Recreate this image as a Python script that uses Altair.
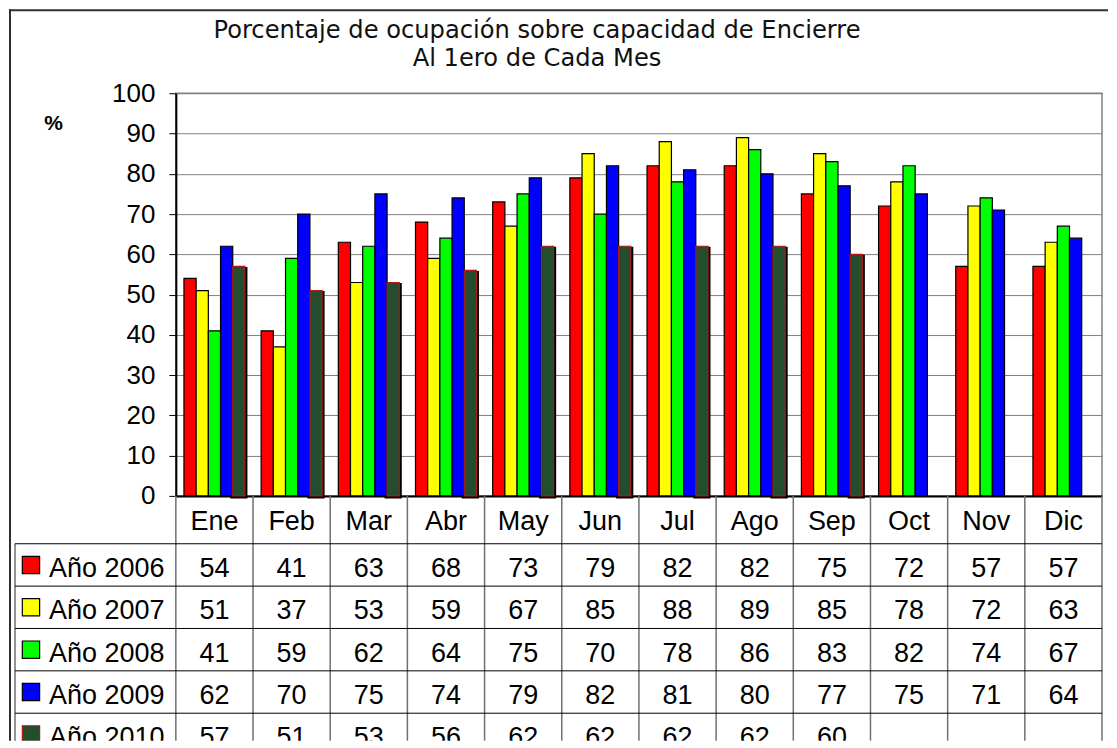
import altair as alt
import pandas as pd

months = ["Ene", "Feb", "Mar", "Abr", "May", "Jun", "Jul", "Ago", "Sep", "Oct", "Nov", "Dic"]
series = ["Año 2006", "Año 2007", "Año 2008", "Año 2009", "Año 2010"]
a2006 = [54, 41, 63, 68, 73, 79, 82, 82, 75, 72, 57, 57]
a2007 = [51, 37, 53, 59, 67, 85, 88, 89, 85, 78, 72, 63]
a2008 = [41, 59, 62, 64, 75, 70, 78, 86, 83, 82, 74, 67]
a2009 = [62, 70, 75, 74, 79, 82, 81, 80, 77, 75, 71, 64]
a2010 = [57, 51, 53, 56, 62, 62, 62, 62, 60, None, None, None]
y_ticks = [0, 10, 20, 30, 40, 50, 60, 70, 80, 90, 100]

fills = ["#FF0000", "#FFFF00", "#00FF00", "#0000FF", "#234D2C"]
strokes = ["#000000", "#000000", "#000000", "#000000", "#B01818"]

all_vals = [a2006, a2007, a2008, a2009, a2010]
rows = []
for i, (s, vals) in enumerate(zip(series, all_vals)):
    for j, (m, v) in enumerate(zip(months, vals)):
        rows.append({"mes": m, "serie": s, "valor": v, "col": j + 0.5,
                     "fila": i + 1.5, "txt": "" if v is None else str(v)})
df = pd.DataFrame(rows)
bars_df = df.dropna(subset=["valor"])

fill_scale = alt.Scale(domain=series, range=fills)
stroke_scale = alt.Scale(domain=series, range=strokes)
FONT = "Liberation Sans"
NOVIEW = alt.ViewBackground(stroke="transparent", strokeWidth=0)

x_enc = alt.X("mes:N", sort=months,
              scale=alt.Scale(paddingInner=0.21, paddingOuter=0.105),
              axis=alt.Axis(labels=False, ticks=False, title=None, grid=False,
                            domainColor="#000000", domainWidth=2))
xo_enc = alt.XOffset("serie:N", sort=series, scale=alt.Scale(paddingInner=0, paddingOuter=0))
y_axis = alt.Axis(values=y_ticks, title="%", titleAngle=0,
                  titleX=-123, titleY=30, titleAlign="center",
                  titleBaseline="middle", titleFont=FONT,
                  titleFontSize=21, titleFontWeight="bold",
                  titleColor="#000000",
                  labelFont=FONT, labelFontSize=26, labelColor="#000000",
                  labelPadding=14, tickSize=7, tickColor="#000000",
                  domainColor="#000000", domainWidth=2,
                  gridColor="#808080", gridWidth=1)

# ---------- top chart: bars ----------
shadow = alt.Chart(bars_df).transform_filter(
    alt.datum.serie == "Año 2010"
).transform_calculate(sombra="datum.valor - 0.75").mark_bar(
    color="#000000", stroke="#000000", strokeWidth=5
).encode(
    x=x_enc, xOffset=xo_enc,
    y=alt.Y("sombra:Q", scale=alt.Scale(domain=[0, 100], nice=False), axis=y_axis),
)

bars = alt.Chart(bars_df).mark_bar(strokeWidth=1.2).encode(
    x=x_enc, xOffset=xo_enc,
    y=alt.Y("valor:Q", scale=alt.Scale(domain=[0, 100], nice=False), axis=y_axis),
    fill=alt.Fill("serie:N", scale=fill_scale, legend=None),
    stroke=alt.Stroke("serie:N", scale=stroke_scale, legend=None),
)

top = alt.layer(shadow, bars).properties(
    width=927, height=403,
    view=alt.ViewBackground(stroke="#808080", strokeWidth=1.5),
    title=alt.TitleParams(
        ["Porcentaje de ocupación sobre capacidad de Encierre", "Al 1ero de Cada Mes"],
        anchor="middle", dx=-102, offset=9, font="DejaVu Sans", fontSize=24.2,
        fontWeight="normal", color="#111111", lineHeight=28),
)

# ---------- bottom: data table ----------
H = 245
UNIT = 42.4
YMAX = -0.13 + H / UNIT

# ---------- blank left cell holding the outer frame ----------
one = pd.DataFrame({"k": [0]})
frame_top = alt.Chart(one).mark_rule(color="#303030", strokeWidth=2).encode(
    x=alt.value(-6), x2=alt.value(1094), y=alt.value(-83))
frame_left = alt.Chart(one).mark_rule(color="#303030", strokeWidth=2).encode(
    x=alt.value(-5), y=alt.value(-84), y2=alt.value(403 + H))
corner = alt.layer(frame_top, frame_left).properties(width=161, height=403, view=NOVIEW)

X = alt.Scale(domain=[0, 12], nice=False, zero=False)
XL = alt.Scale(domain=[-2.084, 0], nice=False, zero=False)
Y = alt.Scale(domain=[-0.13, YMAX], nice=False, zero=False, reverse=True)

head_df = pd.DataFrame({"mes": months, "col": [j + 0.5 for j in range(12)], "fila": 0.435})
lab_df = pd.DataFrame({"serie": series, "fila": [i + 1.5 for i in range(5)],
                       "lx": -1.644, "sx": -1.877})
vlines = pd.DataFrame({"x": list(range(13)), "y": -0.13, "y2": YMAX})
vleft = pd.DataFrame({"x": [-2.084], "y": [1], "y2": [YMAX]})
hlines = pd.DataFrame({"y": list(range(1, 6)), "x": -2.084, "x2": 12})

v_rules = alt.Chart(vlines).mark_rule(color="#707070", strokeWidth=1.5).encode(
    x=alt.X("x:Q", scale=X, axis=None), y=alt.Y("y:Q", scale=Y, axis=None), y2="y2:Q")
v_left = alt.Chart(vleft).mark_rule(color="#707070", strokeWidth=1.5).encode(
    x=alt.X("x:Q", scale=X, axis=None), y=alt.Y("y:Q", scale=Y, axis=None), y2="y2:Q")
h_rules = alt.Chart(hlines).mark_rule(color="#000000", strokeWidth=1).encode(
    x=alt.X("x:Q", scale=X, axis=None), x2="x2:Q", y=alt.Y("y:Q", scale=Y, axis=None))

head_txt = alt.Chart(head_df).mark_text(font=FONT, fontSize=27, color="#000000",
                                         baseline="middle", dy=2, clip=True).encode(
    x=alt.X("col:Q", scale=X, axis=None), y=alt.Y("fila:Q", scale=Y, axis=None), text="mes:N")
cell_txt = alt.Chart(df).mark_text(font=FONT, fontSize=27, color="#000000",
                                   baseline="middle", dy=4, clip=True).encode(
    x=alt.X("col:Q", scale=X, axis=None), y=alt.Y("fila:Q", scale=Y, axis=None), text="txt:N")

values = alt.layer(v_rules, v_left, h_rules, head_txt, cell_txt).properties(
    width=927, height=H, view=NOVIEW)

lab_txt = alt.Chart(lab_df).mark_text(font=FONT, fontSize=27, color="#000000",
                                      baseline="middle", align="left", dy=4,
                                      clip=True).encode(
    x=alt.X("lx:Q", scale=XL, axis=None), y=alt.Y("fila:Q", scale=Y, axis=None), text="serie:N")
swatch = alt.Chart(lab_df).mark_square(size=300, strokeWidth=1.2, opacity=1,
                                       clip=True).encode(
    x=alt.X("sx:Q", scale=XL, axis=None), y=alt.Y("fila:Q", scale=Y, axis=None),
    fill=alt.Fill("serie:N", scale=fill_scale, legend=None),
    stroke=alt.Stroke("serie:N", scale=stroke_scale, legend=None))

labels = alt.layer(lab_txt, swatch).properties(width=161, height=H, view=NOVIEW)

chart = alt.concat(corner, top, labels, values, columns=2, spacing=0,
                   bounds="flush", align="each").properties(padding=0)
chart = chart.resolve_scale(x="independent", y="independent")

chart.save("out.html", embed_options={"renderer": "svg", "actions": False})
